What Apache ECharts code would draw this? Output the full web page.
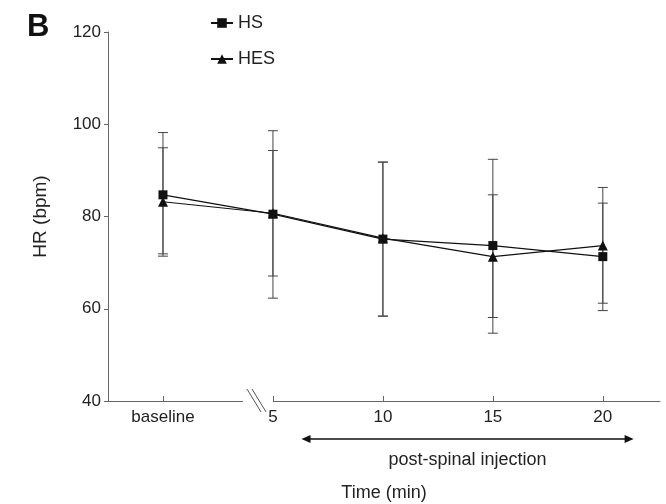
<!DOCTYPE html>
<html>
<head>
<meta charset="utf-8">
<script src="https://cdn.jsdelivr.net/npm/echarts@6/dist/echarts.min.js"></script>
<style>
  html, body { margin: 0; padding: 0; background: #fff; }
  #chart { width: 666px; height: 504px; }
</style>
</head>
<body>
<div id="chart"></div>
<script>
// x positions: baseline is put at 0, then minutes after the spinal injection
var timePoints = [0, 5, 10, 15, 20];
var tickLabels = ['baseline', '5', '10', '15', '20'];

var hsMean  = [84.7, 80.5, 75.1, 73.7, 71.3];
var hsUpper = [98.2, 98.6, 91.8, 92.4, 82.9];
var hsLower = [71.4, 62.3, 58.4, 54.7, 59.6];

var hesMean  = [83.2, 80.7, 75.3, 71.3, 73.7];
var hesUpper = [94.9, 94.3, 91.8, 84.7, 86.3];
var hesLower = [71.9, 67.1, 58.4, 58.1, 61.2];

var font = 'Liberation Sans, Arial, sans-serif';
var chart = echarts.init(document.getElementById('chart'));

function pairs(ys) {
  return timePoints.map(function (t, i) { return [t, ys[i]]; });
}
function bars(lo, hi) {
  return timePoints.map(function (t, i) { return [t, lo[i], hi[i]]; });
}

function renderErrorBar(params, api) {
  var x = api.value(0);
  var lo = api.coord([x, api.value(1)]);
  var hi = api.coord([x, api.value(2)]);
  var w = 5;
  var style = { stroke: '#444', lineWidth: 1 };
  return {
    type: 'group',
    children: [
      { type: 'line', shape: { x1: lo[0], y1: lo[1], x2: hi[0], y2: hi[1] }, style: style },
      { type: 'line', shape: { x1: lo[0] - w, y1: lo[1], x2: lo[0] + w, y2: lo[1] }, style: style },
      { type: 'line', shape: { x1: hi[0] - w, y1: hi[1], x2: hi[0] + w, y2: hi[1] }, style: style }
    ]
  };
}

chart.setOption({
  animation: false,
  textStyle: { fontFamily: font },
  title: {
    text: 'B',
    left: 22,
    top: 7,
    textStyle: { fontSize: 31, fontWeight: 'bold', color: '#111', fontFamily: font }
  },
  legend: {
    data: ['HS', 'HES'],
    orient: 'vertical',
    left: 205,
    top: 9,
    itemWidth: 22,
    itemHeight: 12,
    itemGap: 18,
    textStyle: { fontSize: 18, color: '#222', padding: [0, 0, 0, 0] }
  },
  grid: {
    left: 108,
    right: 6,
    top: 32,
    bottom: 103,
    outerBoundsMode: 'none'
  },
  xAxis: {
    type: 'value',
    min: -2.5,
    max: 22.6,
    name: 'Time (min)',
    nameLocation: 'middle',
    nameGap: 83,
    nameTextStyle: { fontSize: 18, color: '#222' },
    splitLine: { show: false },
    axisLine: { onZero: false, lineStyle: { color: '#666', width: 1 } },
    axisTick: {
      inside: true,
      length: 5,
      customValues: timePoints,
      lineStyle: { color: '#666' }
    },
    axisLabel: {
      customValues: timePoints,
      margin: 8,
      fontSize: 17,
      color: '#222',
      formatter: function (v) { return tickLabels[timePoints.indexOf(v)]; }
    }
  },
  yAxis: {
    type: 'value',
    min: 40,
    max: 120,
    interval: 20,
    name: 'HR (bpm)',
    nameLocation: 'middle',
    nameRotate: 90,
    nameGap: 58,
    nameTextStyle: { fontSize: 19, color: '#222' },
    splitLine: { show: false },
    axisLine: { show: true, onZero: false, lineStyle: { color: '#666', width: 1 } },
    axisTick: { show: true, length: 4, lineStyle: { color: '#666' } },
    axisLabel: { margin: 7, fontSize: 17, color: '#222' }
  },
  series: [
    {
      type: 'custom',
      name: 'HES error',
      renderItem: renderErrorBar,
      encode: { x: 0, y: [1, 2] },
      data: bars(hesLower, hesUpper),
      z: 1
    },
    {
      type: 'custom',
      name: 'HS error',
      renderItem: renderErrorBar,
      encode: { x: 0, y: [1, 2] },
      data: bars(hsLower, hsUpper),
      z: 1
    },
    {
      name: 'HES',
      type: 'line',
      data: pairs(hesMean),
      symbol: 'triangle',
      symbolSize: 10,
      color: '#111',
      lineStyle: { color: '#111', width: 1.2 },
      itemStyle: { color: '#111' },
      z: 3
    },
    {
      name: 'HS',
      type: 'line',
      data: pairs(hsMean),
      symbol: 'rect',
      symbolSize: 9,
      color: '#111',
      lineStyle: { color: '#111', width: 1.2 },
      itemStyle: { color: '#111' },
      z: 4
    }
  ]
});

// axis break between baseline and 5 min, plus the post-spinal arrow
function px(x) { return chart.convertToPixel({ gridIndex: 0 }, [x, 40]); }
var ay = px(0)[1];
var gapL = px(3.64)[0], gapR = px(5.0)[0];
var aL = px(6.3)[0], aR = px(21.4)[0];
var arrowY = ay + 38;
var head = 9, hw = 4;
var dark = '#111';

chart.setOption({
  graphic: [
    { type: 'rect', shape: { x: gapL, y: ay - 3, width: gapR - gapL, height: 6 }, style: { fill: '#fff' }, z: 10 },
    { type: 'line', shape: { x1: gapL + 4, y1: ay - 12, x2: gapL + 18, y2: ay + 11 }, style: { stroke: '#555', lineWidth: 1 }, z: 11 },
    { type: 'line', shape: { x1: gapL + 9, y1: ay - 12, x2: gapL + 23, y2: ay + 11 }, style: { stroke: '#555', lineWidth: 1 }, z: 11 },
    { type: 'line', shape: { x1: aL + head - 1, y1: arrowY, x2: aR - head + 1, y2: arrowY }, style: { stroke: dark, lineWidth: 1.5 }, z: 11 },
    { type: 'polygon', shape: { points: [[aL, arrowY], [aL + head, arrowY - hw], [aL + head, arrowY + hw]] }, style: { fill: dark }, z: 11 },
    { type: 'polygon', shape: { points: [[aR, arrowY], [aR - head, arrowY - hw], [aR - head, arrowY + hw]] }, style: { fill: dark }, z: 11 },
    {
      type: 'text',
      x: (aL + aR) / 2,
      y: ay + 59,
      style: {
        text: 'post-spinal injection',
        fontSize: 18,
        fontFamily: font,
        fill: '#222',
        align: 'center',
        verticalAlign: 'middle'
      },
      z: 11
    }
  ]
});
</script>
</body>
</html>
